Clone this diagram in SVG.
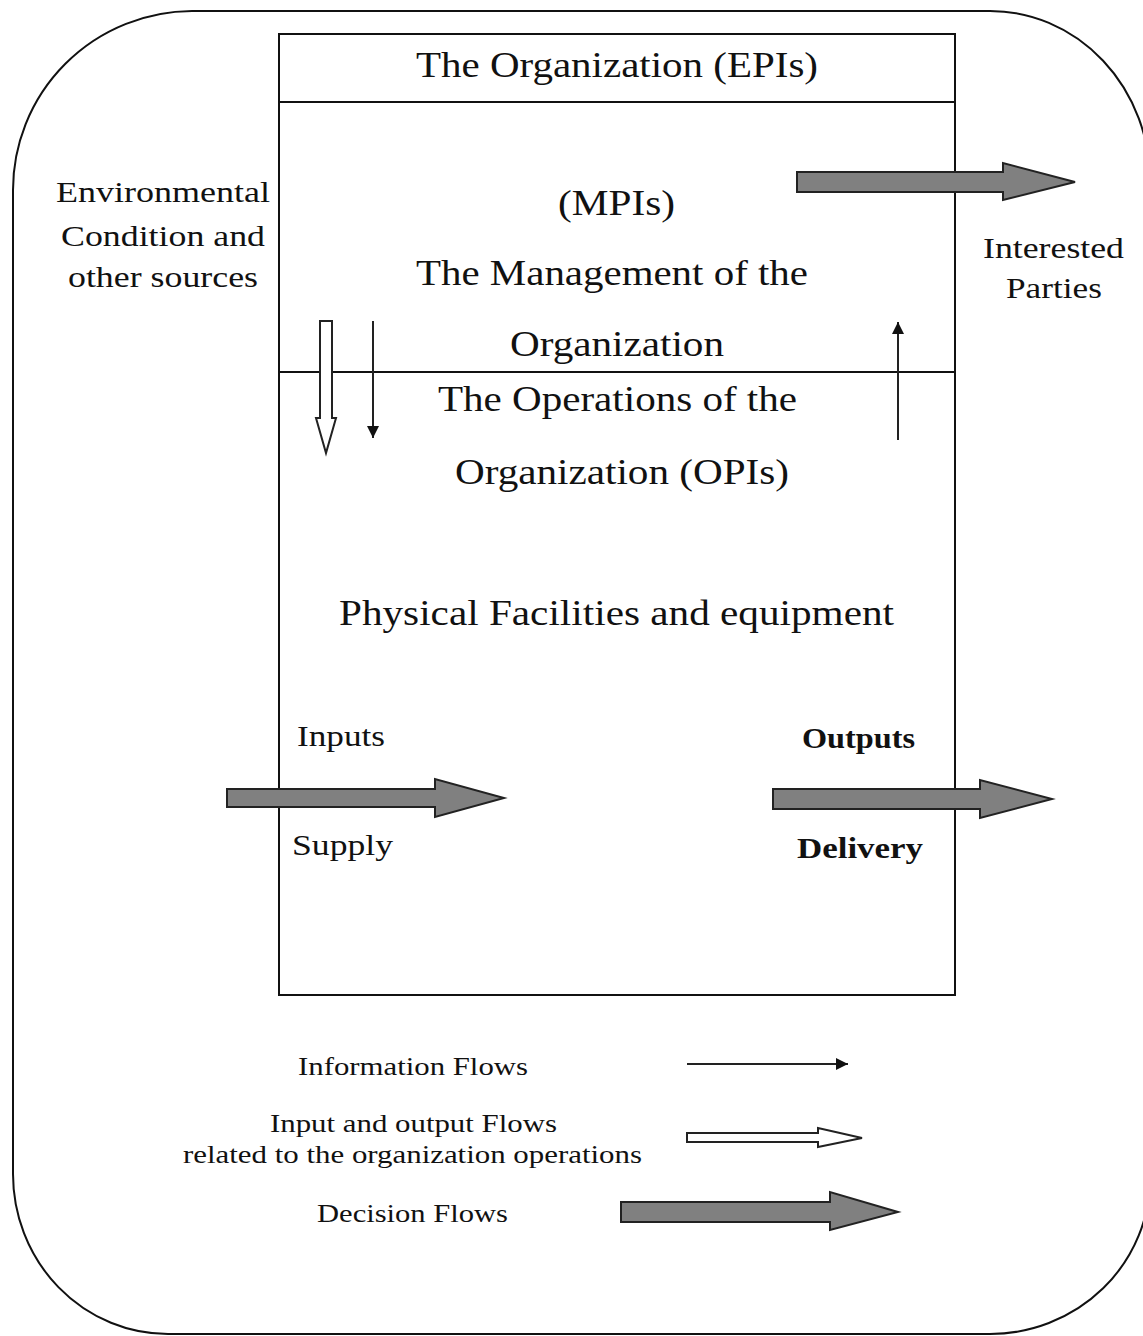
<svg xmlns="http://www.w3.org/2000/svg" width="1143" height="1336" viewBox="0 0 1143 1336">
<style>
  text { font-family: "Liberation Serif", "Times New Roman", serif; fill: #111; }
  .main { font-size: 35px; }
  .side { font-size: 29px; }
  .io { font-size: 30px; }
  .leg { font-size: 25px; }
  .line { fill: none; stroke: #111; stroke-width: 2; }
  .dec { fill: #808080; stroke: #222; stroke-width: 2; stroke-linejoin: miter; }
  .hollow { fill: #fff; stroke: #222; stroke-width: 2; }
  .info { stroke: #222; stroke-width: 2; fill: none; }
</style>
<defs>
  <marker id="ah" viewBox="0 0 10 10" refX="10" refY="5" markerWidth="6" markerHeight="6" markerUnits="strokeWidth" orient="auto">
    <path d="M0,0 L10,5 L0,10 Z" fill="#111"/>
  </marker>
</defs>

<g id="environment">
  <path class="line" d="M 192 11 H 990 A 160 170 0 0 1 1150 181 V 1178 A 160 156 0 0 1 990 1334 H 168 A 155 160 0 0 1 13 1174 V 190 A 180 179 0 0 1 192 11 Z"/>
</g>

<g id="organization">
  <rect class="line" x="279" y="34" width="676" height="961"/>
  <line class="line" x1="279" y1="102" x2="955" y2="102"/>
  <line class="line" x1="279" y1="372" x2="955" y2="372"/>
  <text class="main" x="416" y="77" textLength="402" lengthAdjust="spacingAndGlyphs">The Organization (EPIs)</text>
</g>

<g id="management">
  <text class="main" x="558" y="215" textLength="117" lengthAdjust="spacingAndGlyphs">(MPIs)</text>
  <text class="main" x="416" y="285" textLength="392" lengthAdjust="spacingAndGlyphs">The Management of the</text>
  <text class="main" x="510" y="356" textLength="214" lengthAdjust="spacingAndGlyphs">Organization</text>
</g>

<g id="operations">
  <text class="main" x="438" y="411" textLength="359" lengthAdjust="spacingAndGlyphs">The Operations of the</text>
  <text class="main" x="455" y="484" textLength="334" lengthAdjust="spacingAndGlyphs">Organization (OPIs)</text>
  <text class="main" x="339" y="625" textLength="555" lengthAdjust="spacingAndGlyphs">Physical Facilities and equipment</text>
</g>

<g id="environmental-conditions">
  <text class="side" x="56" y="202" textLength="214" lengthAdjust="spacingAndGlyphs">Environmental</text>
  <text class="side" x="61" y="246" textLength="204" lengthAdjust="spacingAndGlyphs">Condition and</text>
  <text class="side" x="68" y="287" textLength="190" lengthAdjust="spacingAndGlyphs">other sources</text>
</g>

<g id="interested-parties">
  <text class="side" x="983" y="258" textLength="141" lengthAdjust="spacingAndGlyphs">Interested</text>
  <text class="side" x="1006" y="298" textLength="96" lengthAdjust="spacingAndGlyphs">Parties</text>
</g>

<g id="inputs">
  <text class="io" x="297" y="746" textLength="88" lengthAdjust="spacingAndGlyphs">Inputs</text>
  <text class="io" x="292" y="855" textLength="101" lengthAdjust="spacingAndGlyphs">Supply</text>
</g>

<g id="outputs">
  <text class="io" x="802" y="748" textLength="113" lengthAdjust="spacingAndGlyphs" font-weight="bold">Outputs</text>
  <text class="io" x="797" y="858" textLength="126" lengthAdjust="spacingAndGlyphs" font-weight="bold">Delivery</text>
</g>

<g id="legend">
  <text class="leg" x="298" y="1075" textLength="230" lengthAdjust="spacingAndGlyphs">Information Flows</text>
  <text class="leg" x="270" y="1132" textLength="287" lengthAdjust="spacingAndGlyphs">Input and output Flows</text>
  <text class="leg" x="183" y="1163" textLength="459" lengthAdjust="spacingAndGlyphs">related to the organization operations</text>
  <text class="leg" x="317" y="1222" textLength="191" lengthAdjust="spacingAndGlyphs">Decision Flows</text>
</g>

<g id="connectors">
  <path class="dec" d="M 797 172 H 1003 V 163 L 1075 182 L 1003 200 V 192 H 797 Z"/>
  <path class="dec" d="M 227 789 H 435 V 779 L 504 798 L 435 817 V 807 H 227 Z"/>
  <path class="dec" d="M 773 789 H 980 V 780 L 1052 799 L 980 818 V 809 H 773 Z"/>
  <path class="hollow" d="M 320 321 H 332 V 418 H 336 L 326 453 L 316 418 H 320 Z"/>
  <line class="info" x1="373" y1="321" x2="373" y2="438" marker-end="url(#ah)"/>
  <line class="info" x1="898" y1="440" x2="898" y2="322" marker-end="url(#ah)"/>
  <line class="info" x1="687" y1="1064" x2="848" y2="1064" marker-end="url(#ah)"/>
  <path class="hollow" d="M 687 1133 H 818 V 1128 L 862 1138 L 818 1147 V 1142 H 687 Z"/>
  <path class="dec" d="M 621 1202 H 830 V 1192 L 898 1212 L 830 1230 V 1222 H 621 Z"/>
</g>
</svg>
